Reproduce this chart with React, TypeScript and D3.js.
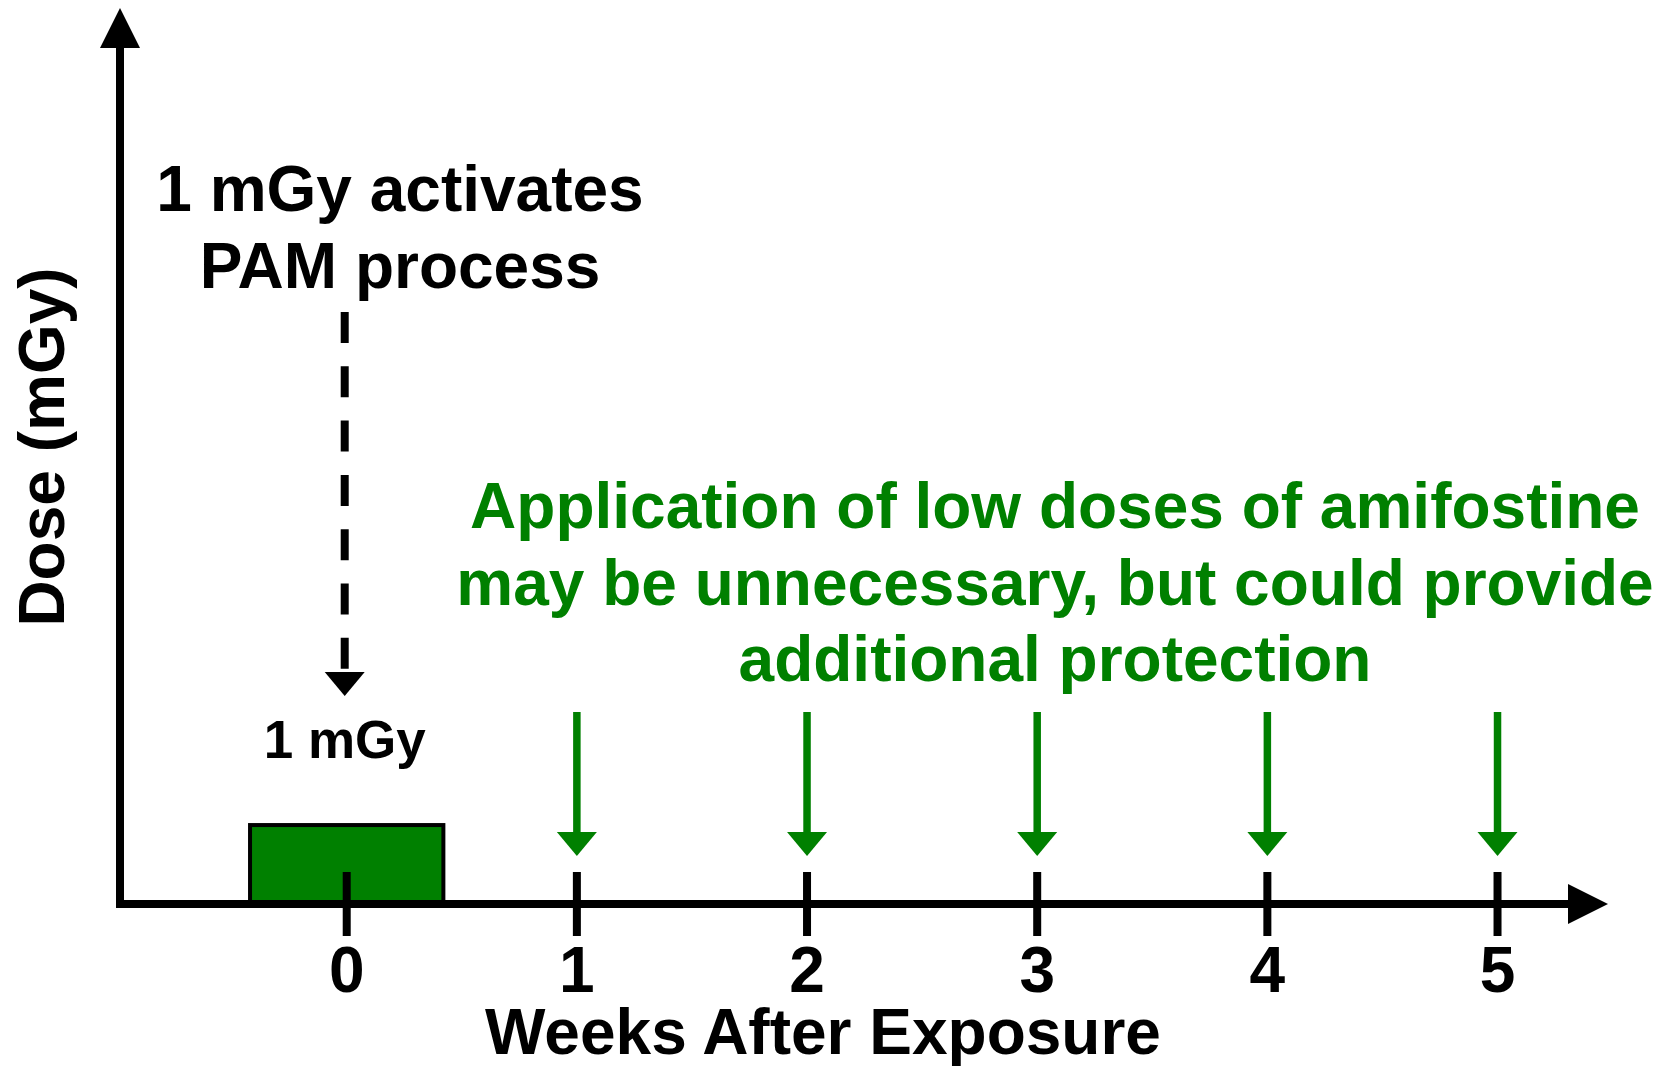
import React, { useEffect, useRef } from "react";
import * as d3 from "d3";

// weeks after exposure shown on the x axis
const weeks = [0, 1, 2, 3, 4, 5];
const tickLabels = ["0", "1", "2", "3", "4", "5"];

// single exposure at week 0
const exposureWeeks = [0];
const exposureDose = [1];
const exposureLabels = ["1 mGy"];

// weekly amifostine applications
const amifostineWeeks = [1, 2, 3, 4, 5];

const pamNote = ["1 mGy activates", "PAM process"];
const amifostineNote = [
  "Application of low doses of amifostine",
  "may be unnecessary, but could provide",
  "additional protection",
];
const xTitle = "Weeks After Exposure";
const yTitle = "Dose (mGy)";

function App() {
  const width = 1671;
  const height = 1066;
  const svgRef = useRef<SVGSVGElement | null>(null);

  useEffect(() => {
    const svg = d3.select(svgRef.current);
    svg.selectAll("*").remove();

    const font = "'Liberation Sans', Arial, Helvetica, sans-serif";
    const green = "#008000";

    // scales: x in weeks, y in mGy
    const xMin = -0.985;
    const xMax = 5.48;
    const yMax = 11.35;
    const x = d3.scaleLinear().domain([xMin, xMax]).range([120, 1608]);
    const y = d3.scaleLinear().domain([0, yMax]).range([904, 8]);
    const x0 = x(xMin);
    const y0 = y(0);
    const arrowLen = 40;
    const arrowHalf = 20;
    const barHalf = 0.42;

    // exposure bar
    svg
      .selectAll(".bar")
      .data(exposureWeeks)
      .enter()
      .append("rect")
      .attr("class", "bar")
      .attr("x", (d) => x(d - barHalf))
      .attr("y", (d, i) => y(exposureDose[i]))
      .attr("width", (d) => x(d + barHalf) - x(d - barHalf))
      .attr("height", (d, i) => y0 - y(exposureDose[i]))
      .attr("fill", green)
      .attr("stroke", "#000")
      .attr("stroke-width", 4);

    // x axis line + arrow
    svg
      .append("line")
      .attr("x1", x0 - 4)
      .attr("x2", x(xMax) - arrowLen + 2)
      .attr("y1", y0)
      .attr("y2", y0)
      .attr("stroke", "#000")
      .attr("stroke-width", 8);
    svg
      .append("path")
      .attr(
        "d",
        `M${x(xMax) - arrowLen},${y0 - arrowHalf}L${x(xMax)},${y0}L${x(xMax) - arrowLen},${y0 + arrowHalf}Z`
      )
      .attr("fill", "#000");

    // y axis line + arrow
    svg
      .append("line")
      .attr("x1", x0)
      .attr("x2", x0)
      .attr("y1", y0 + 4)
      .attr("y2", y(yMax) + arrowLen - 2)
      .attr("stroke", "#000")
      .attr("stroke-width", 8);
    svg
      .append("path")
      .attr(
        "d",
        `M${x0 - arrowHalf},${y(yMax) + arrowLen}L${x0},${y(yMax)}L${x0 + arrowHalf},${y(yMax) + arrowLen}Z`
      )
      .attr("fill", "#000");

    // ticks
    svg
      .selectAll(".tick")
      .data(weeks)
      .enter()
      .append("line")
      .attr("class", "tick")
      .attr("x1", (d) => x(d))
      .attr("x2", (d) => x(d))
      .attr("y1", y0 - 32)
      .attr("y2", y0 + 32)
      .attr("stroke", "#000")
      .attr("stroke-width", 8);

    svg
      .selectAll(".tick-label")
      .data(weeks)
      .enter()
      .append("text")
      .attr("class", "tick-label")
      .attr("x", (d) => x(d))
      .attr("y", y0 + 88)
      .attr("text-anchor", "middle")
      .attr("font-family", font)
      .attr("font-weight", "bold")
      .attr("font-size", 64)
      .attr("fill", "#000")
      .text((d, i) => tickLabels[i]);

    // axis titles
    svg
      .append("text")
      .attr("x", 823)
      .attr("y", 1054)
      .attr("text-anchor", "middle")
      .attr("font-family", font)
      .attr("font-weight", "bold")
      .attr("font-size", 64)
      .attr("fill", "#000")
      .text(xTitle);

    svg
      .append("text")
      .attr("transform", "translate(64,447) rotate(-90)")
      .attr("text-anchor", "middle")
      .attr("font-family", font)
      .attr("font-weight", "bold")
      .attr("font-size", 64)
      .attr("fill", "#000")
      .text(yTitle);

    // dashed black arrow onto the exposure
    const ex = x(exposureWeeks[0]) - 2;
    svg
      .append("line")
      .attr("x1", ex)
      .attr("x2", ex)
      .attr("y1", 312)
      .attr("y2", 676)
      .attr("stroke", "#000")
      .attr("stroke-width", 8)
      .attr("stroke-dasharray", "31 23.3");
    svg
      .append("path")
      .attr("d", `M${ex - arrowHalf},672L${ex},696L${ex + arrowHalf},672Z`)
      .attr("fill", "#000");

    // bar label
    svg
      .selectAll(".bar-label")
      .data(exposureWeeks)
      .enter()
      .append("text")
      .attr("class", "bar-label")
      .attr("x", (d) => x(d) - 2)
      .attr("y", 758)
      .attr("text-anchor", "middle")
      .attr("font-family", font)
      .attr("font-weight", "bold")
      .attr("font-size", 53)
      .attr("fill", "#000")
      .text((d, i) => exposureLabels[i]);

    // green amifostine arrows
    const tipY = y0 - 48;
    svg
      .selectAll(".ami-line")
      .data(amifostineWeeks)
      .enter()
      .append("line")
      .attr("class", "ami-line")
      .attr("x1", (d) => x(d))
      .attr("x2", (d) => x(d))
      .attr("y1", 712)
      .attr("y2", tipY - 22)
      .attr("stroke", green)
      .attr("stroke-width", 7.5);
    svg
      .selectAll(".ami-head")
      .data(amifostineWeeks)
      .enter()
      .append("path")
      .attr("class", "ami-head")
      .attr(
        "d",
        (d) => `M${x(d) - arrowHalf},${tipY - 24}L${x(d)},${tipY}L${x(d) + arrowHalf},${tipY - 24}Z`
      )
      .attr("fill", green);

    // notes
    svg
      .selectAll(".pam-note")
      .data(pamNote)
      .enter()
      .append("text")
      .attr("class", "pam-note")
      .attr("x", 400)
      .attr("y", (d, i) => 211 + i * 77)
      .attr("text-anchor", "middle")
      .attr("font-family", font)
      .attr("font-weight", "bold")
      .attr("font-size", 64)
      .attr("fill", "#000")
      .text((d) => d);

    svg
      .selectAll(".ami-note")
      .data(amifostineNote)
      .enter()
      .append("text")
      .attr("class", "ami-note")
      .attr("x", 1055)
      .attr("y", (d, i) => 528 + i * 76.5)
      .attr("text-anchor", "middle")
      .attr("font-family", font)
      .attr("font-weight", "bold")
      .attr("font-size", 64)
      .attr("fill", green)
      .text((d) => d);
  }, []);

  return (
    <svg
      ref={svgRef}
      width={width}
      height={height}
      style={{ position: "absolute", left: 0, top: 0, background: "#fff" }}
    ></svg>
  );
}

export default App;
